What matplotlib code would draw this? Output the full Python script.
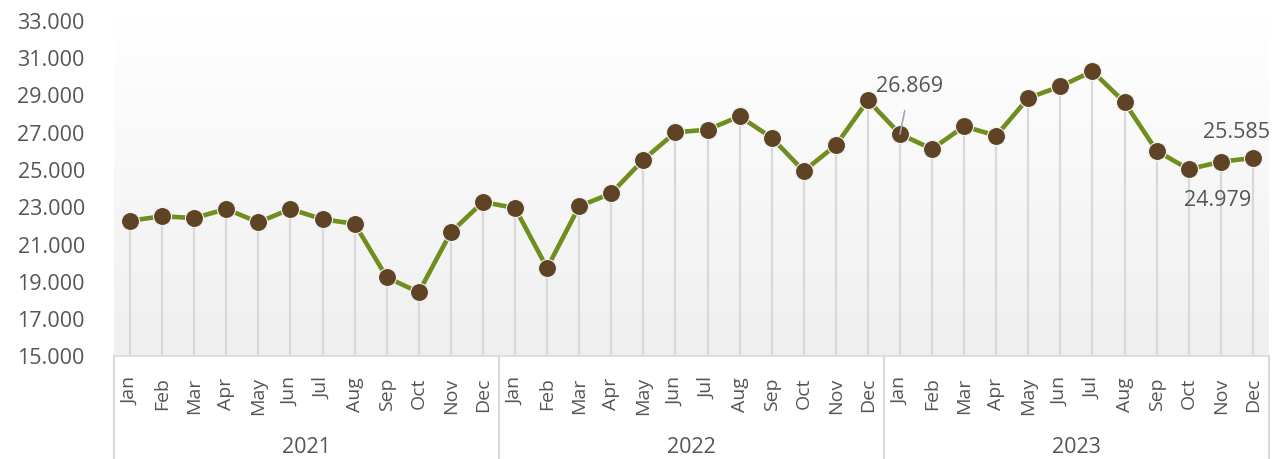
import matplotlib
matplotlib.use("Agg")
import matplotlib.pyplot as plt
import matplotlib.transforms as mtransforms
import numpy as np

plt.rcParams['font.family'] = ['Open Sans', 'DejaVu Sans']

months = ['Jan', 'Feb', 'Mar', 'Apr', 'May', 'Jun',
          'Jul', 'Aug', 'Sep', 'Oct', 'Nov', 'Dec']
years = ['2021', '2022', '2023']

values_2021 = [22225, 22461, 22370, 22852, 22140, 22852,
               22300, 22064, 19192, 18388, 21604, 23228]
values_2022 = [22906, 19690, 22997, 23694, 25495, 26964,
               27103, 27821, 26674, 24889, 26267, 28679]
values_2023 = [26869, 26068, 27285, 26781, 28802, 29429,
               30233, 28572, 25977, 24979, 25388, 25585]

yticks = [15000, 17000, 19000, 21000, 23000, 25000, 27000, 29000, 31000, 33000]

text_col = '#555555'
line_col = '#6F8E1E'
dot_col = '#5E4424'
drop_col = '#D9D9D9'

values = values_2021 + values_2022 + values_2023
labels = months * len(years)
x = np.arange(len(values))

fig = plt.figure(figsize=(12.74, 4.6), dpi=100)
ax = fig.add_axes([0.0895, 0.225, 0.9065, 0.73])

ax.set_xlim(-0.5, len(values) - 0.5)
ax.set_ylim(yticks[0], yticks[-1])

# gradient background of the plot area
grad = np.linspace(1.0, 0.0, 256).reshape(-1, 1)
top = np.array([1.0, 1.0, 1.0])
bot = np.array([0.937, 0.937, 0.937])
img = top * grad[..., None] + bot * (1 - grad[..., None])
ax.imshow(img, extent=[-0.5, len(values) - 0.5, yticks[0], yticks[-1]],
          aspect='auto', zorder=0, origin='upper')

# drop lines
ax.vlines(x, yticks[0], values, colors=drop_col, linewidth=1.6, zorder=1)

ax.plot(x, values, color=line_col, linewidth=3.3, zorder=2)
ax.plot(x, values, linestyle='none', marker='o', markersize=13,
        markerfacecolor=dot_col, markeredgecolor='#F2F2F2',
        markeredgewidth=0.8, zorder=3)

for s in ['top', 'right', 'left']:
    ax.spines[s].set_visible(False)
ax.spines['bottom'].set_color(drop_col)
ax.spines['bottom'].set_linewidth(1.2)

ax.set_yticks(yticks)
ax.set_yticklabels([f"{v:,.0f}".replace(',', '.') for v in yticks])
ax.tick_params(axis='y', length=0, pad=21, labelsize=15.5, labelcolor=text_col)

ax.set_xticks(x)
ax.set_xticklabels(labels, rotation=90)
ax.tick_params(axis='x', length=0, pad=15, labelsize=14, labelcolor=text_col)

# year groups below the months
trans = mtransforms.blended_transform_factory(ax.transData, ax.transAxes)
for i, yr in enumerate(years):
    ax.text(i * 12 + 5.5, -0.272, yr, transform=trans, ha='center',
            va='center', fontsize=15.5, color=text_col)
for i in range(len(years) + 1):
    ax.plot([i * 12 - 0.5, i * 12 - 0.5], [0, -0.31], transform=trans,
            color=drop_col, linewidth=1.5, clip_on=False)

# data labels
def fmt(v):
    return f"{v:,.0f}".replace(',', '.')

i_jan23 = 24
ax.annotate(fmt(values[i_jan23]), xy=(x[i_jan23], values[i_jan23]),
            xytext=(10, 49), textcoords='offset pixels', ha='center',
            va='center', fontsize=15.5, color=text_col,
            arrowprops=dict(arrowstyle='-', color='#A6A6A6', lw=1.2,
                            shrinkA=9, shrinkB=0))
i_dec23 = 35
ax.annotate(fmt(values[i_dec23]), xy=(x[i_dec23], values[i_dec23]),
            xytext=(-16, 27), textcoords='offset pixels', ha='center',
            va='center', fontsize=15.5, color=text_col)
i_oct23 = 33
ax.annotate(fmt(values[i_oct23]), xy=(x[i_oct23], values[i_oct23]),
            xytext=(29, -30), textcoords='offset pixels', ha='center',
            va='center', fontsize=15.5, color=text_col)

fig.savefig('out.png', dpi=100, facecolor='white')
